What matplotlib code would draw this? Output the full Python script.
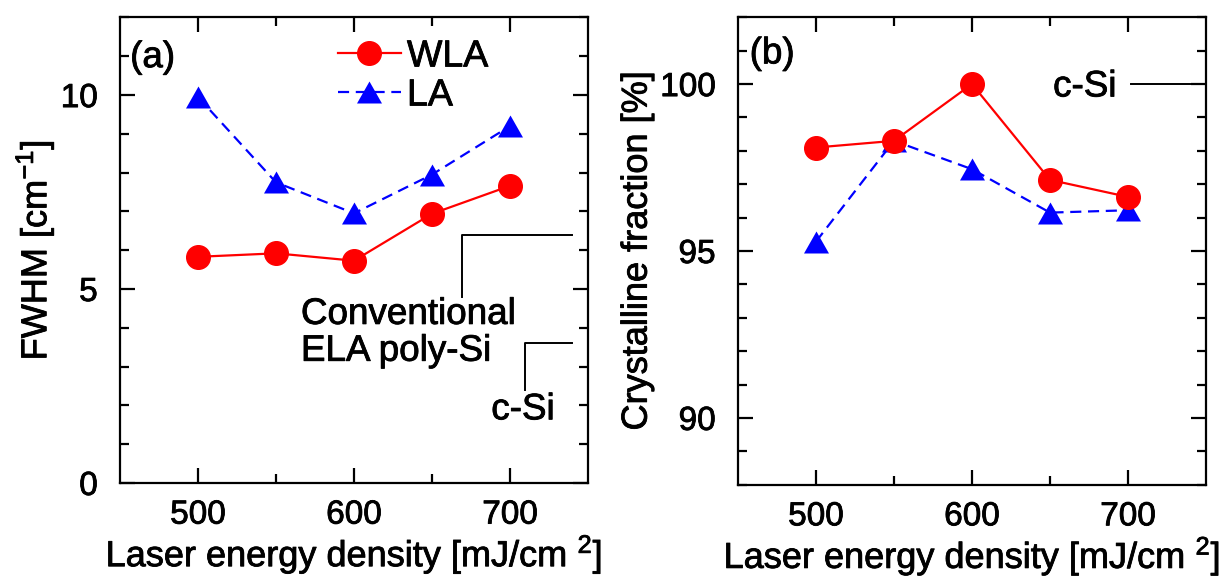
import matplotlib
matplotlib.use("Agg")
import matplotlib.pyplot as plt
import matplotlib.patheffects as pe

plt.rcParams['font.family'] = ['Liberation Sans', 'DejaVu Sans']
plt.rcParams['mathtext.fontset'] = 'custom'
plt.rcParams['mathtext.rm'] = 'Liberation Sans'
plt.rcParams['mathtext.it'] = 'Liberation Sans:italic'
plt.rcParams['mathtext.bf'] = 'Liberation Sans:bold'

# Laser energy density [mJ/cm^2]
energy = [500, 550, 600, 650, 700]

# (a) Raman FWHM [cm^-1]
fwhm_wla = [5.83, 5.92, 5.73, 6.94, 7.66]
fwhm_la = [9.95, 7.75, 6.95, 7.95, 9.2]

# (b) Crystalline fraction [%]
cryst_wla = [98.1, 98.3, 100.0, 97.13, 96.62]
cryst_la = [95.28, 98.3, 97.45, 96.15, 96.22]

# Reference levels
fwhm_ela_poly = 6.4
fwhm_csi = 3.6
cryst_csi = 100.0

RED = '#ff0000'
BLUE = '#0000ff'
FS_TICK = 24
FS_LABEL = 26
FS_TEXT = 26.5
FS_LEG = 27
BOLDEN = [pe.withStroke(linewidth=0.6, foreground='black')]

# slightly flattened up-triangle
TRI = [(-1.0, -0.88), (1.0, -0.88), (0.0, 0.88), (-1.0, -0.88)]

fig = plt.figure(figsize=(12.23, 5.77), dpi=100)
ax1 = fig.add_axes([0.0981, 0.163, 0.3827, 0.8067])
ax2 = fig.add_axes([0.6034, 0.160, 0.3827, 0.8100])


def style(ax):
    for s in ax.spines.values():
        s.set_linewidth(1.6)
    ax.tick_params(axis='both', which='both', direction='in', top=True, right=True,
                   width=1.6, labelsize=FS_TICK)
    ax.tick_params(axis='both', which='major', length=10.5)
    ax.tick_params(axis='both', which='minor', length=6.5)
    ax.tick_params(axis='y', which='both', pad=16)
    ax.tick_params(axis='x', which='both', pad=12)
    ax.set_xticks([500, 600, 700])
    ax.set_xticks([550, 650], minor=True)
    ax.set_xlim(450, 750)
    ax.set_xlabel(r'Laser energy density [mJ/cm $^{2}$]', fontsize=FS_LABEL, labelpad=1)


def bolden(ax):
    for t in ax.get_xticklabels() + ax.get_yticklabels() + ax.texts:
        t.set_path_effects(BOLDEN)
    ax.xaxis.label.set_path_effects(BOLDEN)
    ax.yaxis.label.set_path_effects(BOLDEN)


# ---- (a) FWHM ----
l1, = ax1.plot(energy, fwhm_wla, '-', color=RED, lw=1.6, marker='o', ms=17,
               mfc=RED, mec=RED, label='WLA')
l2, = ax1.plot(energy, fwhm_la, '--', color=BLUE, lw=1.6, marker=TRI, ms=18,
               mfc=BLUE, mec=BLUE, mew=0, label='LA', dashes=(5, 3))
style(ax1)
ax1.set_ylim(0, 12)
ax1.set_yticks([0, 5, 10])
ax1.set_yticks([v for v in range(0, 13) if v % 5], minor=True)
ax1.set_ylabel(r'FWHM [cm$^{-1}$]', fontsize=FS_LABEL, labelpad=3)
ax1.text(456.5, 10.72, '(a)', fontsize=FS_TEXT, ha='left', va='baseline')

leg = ax1.legend(handles=[l1, l2], loc='upper left', bbox_to_anchor=(0.465, 0.955),
                 frameon=False, fontsize=FS_LEG, numpoints=1, handlelength=1.7,
                 handletextpad=0.15, labelspacing=0.08, borderpad=0, borderaxespad=0)
for t in leg.get_texts():
    t.set_path_effects(BOLDEN)

# reference brackets: conventional ELA poly-Si and c-Si
ax1.plot([669, 669, 740], [4.8, fwhm_ela_poly, fwhm_ela_poly], color='black', lw=1.4)
ax1.plot([709.5, 709.5, 740], [2.4, fwhm_csi, fwhm_csi], color='black', lw=1.4)
ax1.text(566, 4.1, 'Conventional', fontsize=FS_TEXT, ha='left', va='baseline')
ax1.text(566, 3.15, 'ELA poly-Si', fontsize=FS_TEXT, ha='left', va='baseline')
ax1.text(688, 1.64, 'c-Si', fontsize=FS_TEXT, ha='left', va='baseline')
bolden(ax1)

# ---- (b) Crystalline fraction ----
ax2.plot(energy, cryst_la, '--', color=BLUE, lw=1.6, marker=TRI, ms=18,
         mfc=BLUE, mec=BLUE, mew=0, dashes=(5, 3))
ax2.plot(energy, cryst_wla, '-', color=RED, lw=1.6, marker='o', ms=17,
         mfc=RED, mec=RED)
style(ax2)
ax2.set_ylim(88, 102)
ax2.set_yticks([90, 95, 100])
ax2.set_yticks([v for v in range(88, 103) if v % 5], minor=True)
ax2.set_ylabel('Crystalline fraction [%]', fontsize=FS_LABEL, labelpad=4)
ax2.text(457.5, 100.62, '(b)', fontsize=FS_TEXT, ha='left', va='baseline')
ax2.plot([702, 740], [cryst_csi, cryst_csi], color='black', lw=1.4)
ax2.text(652, 99.63, 'c-Si', fontsize=FS_TEXT, ha='left', va='baseline')
bolden(ax2)

fig.savefig('out.png', dpi=100)
